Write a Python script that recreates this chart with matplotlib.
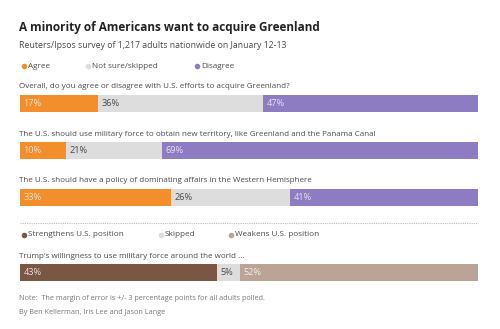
import matplotlib
matplotlib.use('Agg')
import matplotlib.pyplot as plt
import numpy as np

W, H = 500, 329

questions = ["Overall, do you agree or disagree with U.S. efforts to acquire Greenland?",
             "The U.S. should use military force to obtain new territory, like Greenland and the Panama Canal",
             "The U.S. should have a policy of dominating affairs in the Western Hemisphere"]
agree = [17, 10, 33]
not_sure = [36, 21, 26]
disagree = [47, 69, 41]

trump_q = "Trump's willingness to use military force around the world ..."
strengthens = [43]
skipped = [5]
weakens = [52]

legend1 = ["Agree", "Not sure/skipped", "Disagree"]
legend2 = ["Strengthens U.S. position", "Skipped", "Weakens U.S. position"]

c_agree = '#F28E2B'
c_grey = '#DDDDDD'
c_dis = '#8D7CC1'
c_str = '#7A5644'
c_weak = '#BBA497'
mid = '#4A4A4A'

plt.rcParams['font.family'] = ['Open Sans', 'DejaVu Sans']

fig = plt.figure(figsize=(W / 100, H / 100), dpi=100)
fig.patch.set_facecolor('white')

# overlay in pixel coordinates for text, legend dots and separator
base = fig.add_axes([0, 0, 1, 1])
base.set_xlim(0, W)
base.set_ylim(H, 0)
base.axis('off')

def txt(x, y, s, size, color=mid, weight='normal'):
    base.text(x, y, s, fontsize=size, color=color, weight=weight, va='center', ha='left')

txt(19, 27, "A minority of Americans want to acquire Greenland", 8.5, color='#222222', weight='bold')
txt(19, 46, "Reuters/Ipsos survey of 1,217 adults nationwide on January 12-13", 6.35, color=mid)

def legend(y, xs, labels, cols):
    for xc, lab, col in zip(xs, labels, cols):
        base.plot(xc, y, 'o', ms=4, color=col, mec='none')
        txt(xc + 4, y, lab, 5.9, color=mid)

legend(66, [24, 88, 197], legend1, [c_agree, c_grey, c_dis])

x0, x1 = 20, 478
bar_h = 17

def bar_row(ytop, vals, cols, tcols):
    ax = fig.add_axes([x0 / W, 1 - (ytop + bar_h) / H, (x1 - x0) / W, bar_h / H])
    left = 0
    for v, c, tc in zip(vals, cols, tcols):
        ax.barh(0, v, left=left, height=1, color=c, edgecolor='none')
        ax.text(left + 0.8, 0, f"{v}%", color=tc, fontsize=6.6, va='center', ha='left')
        left += v
    ax.set_xlim(0, 100)
    ax.set_ylim(-0.5, 0.5)
    ax.axis('off')

q_y = [87, 134, 181]
bar_y = [95, 142, 189]
for i in range(3):
    txt(19, q_y[i], questions[i], 5.8, color=mid)
    bar_row(bar_y[i], [agree[i], not_sure[i], disagree[i]],
            [c_agree, c_grey, c_dis], ['#FCE3C8', mid, '#E6E0F4'])

# separator
base.plot([x0, x1], [223, 223], color='#BBBBBB', lw=0.8, ls=(0, (1, 1)))

legend(235, [24, 161, 231], legend2, [c_str, c_grey, c_weak])

txt(19, 256, trump_q, 5.8, color=mid)
bar_row(264, [strengthens[0], skipped[0], weakens[0]],
        [c_str, c_grey, c_weak], ['#EADFD8', mid, '#F3ECE8'])

txt(19, 299, "Note:  The margin of error is +/- 3 percentage points for all adults polled.", 5.2, color='#777777')
txt(19, 313, "By Ben Kellerman, Iris Lee and Jason Lange", 5.2, color='#777777')

fig.savefig('out.png', dpi=100)
